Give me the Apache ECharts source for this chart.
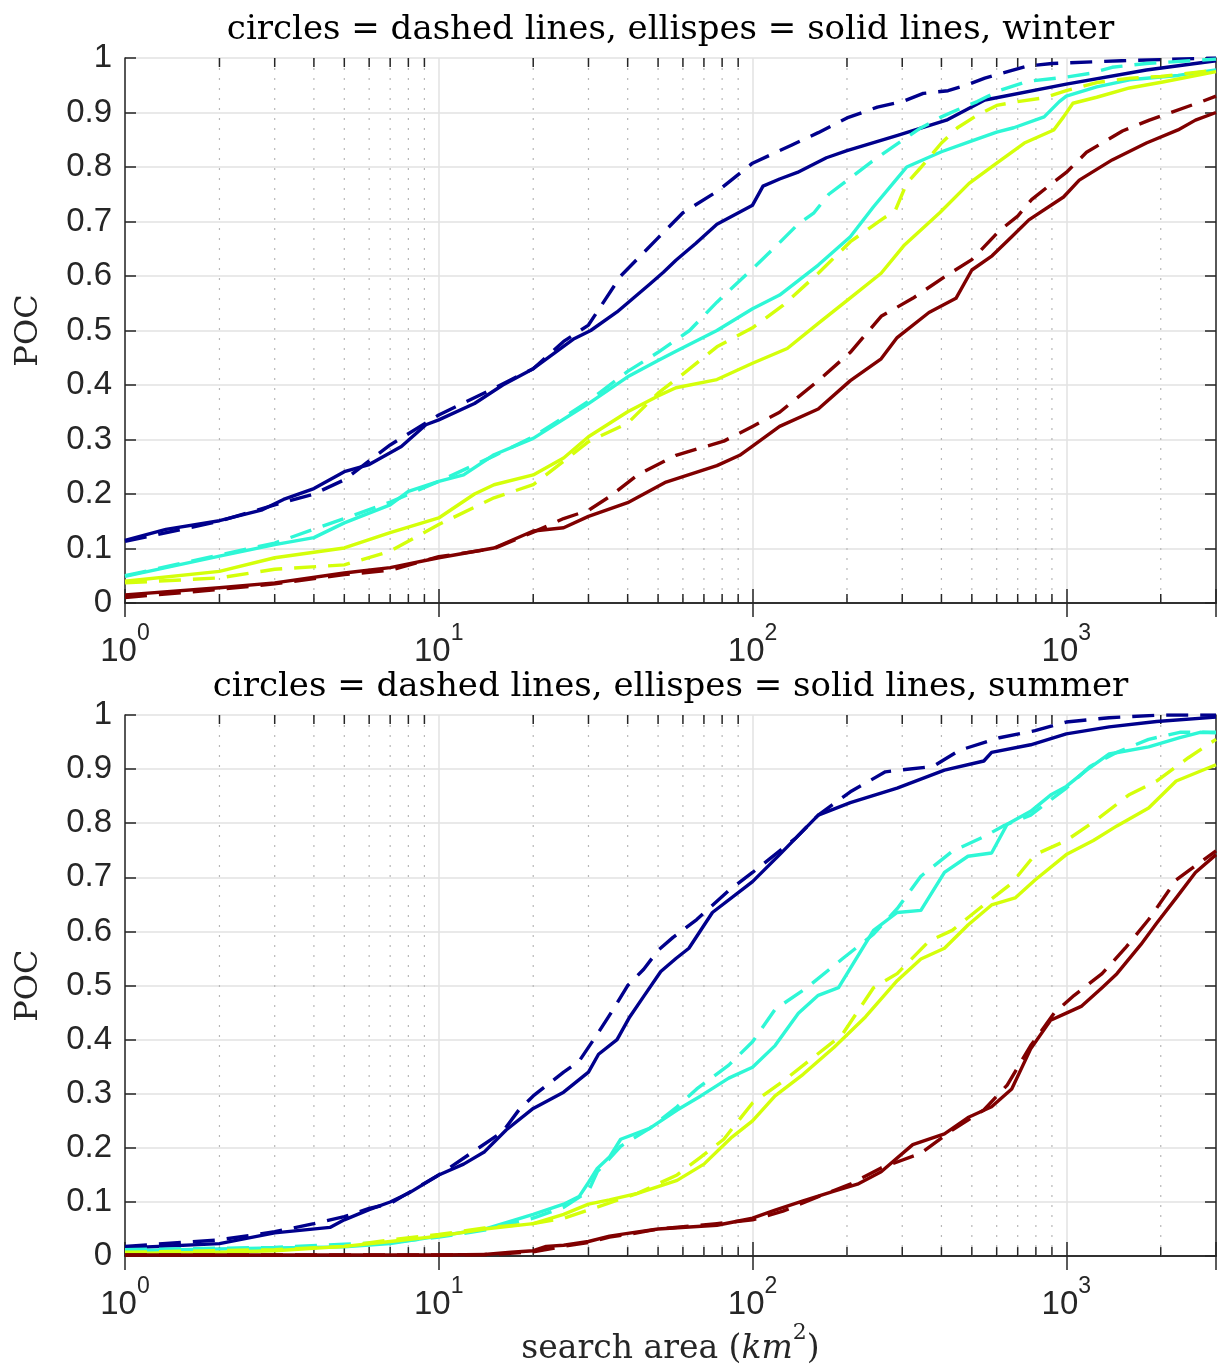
<!DOCTYPE html>
<html>
<head>
<meta charset="utf-8">
<script src="https://cdn.jsdelivr.net/npm/echarts@6/dist/echarts.min.js"></script>
<style>
html,body{margin:0;padding:0;background:#fff;}
#chart{width:1219px;height:1367px;}
</style>
</head>
<body>
<div id="chart"></div>
<script>
// ---------- data (x = search area km^2, y = POC) ----------
var titles = ['circles = dashed lines, ellispes = solid lines, winter',
              'circles = dashed lines, ellispes = solid lines, summer'];
var yLabel = 'POC';
var minorTicks = [2,3,4,5,6,7,8,9,20,30,40,50,60,70,80,90,200,300,400,500,600,700,800,900,2000];

// winter, ellipses (solid) and circles (dashed)
var winterBlueEllipse = [[1,0.115],[1.35,0.135],[2,0.151],[2.74,0.171],[3.2,0.19],[4,0.21],[5,0.241],[6,0.254],[7.6,0.287],[9.1,0.327],[10,0.336],[13,0.366],[16,0.4],[20,0.43],[27,0.485],[30.5,0.5],[37,0.534],[47,0.585],[52,0.607],[57,0.629],[66,0.66],[77,0.695],[100,0.73],[108,0.765],[122,0.778],[139,0.79],[172,0.817],[200,0.83],[290,0.858],[415,0.886],[550,0.923],[1000,0.952],[1800,0.978],[3000,0.995]];
var winterBlueCircle = [[1,0.113],[2,0.15],[3,0.18],[4,0.2],[5,0.226],[7,0.29],[10,0.345],[15,0.394],[20,0.43],[25,0.48],[30,0.51],[38,0.6],[50,0.67],[60,0.716],[77,0.755],[100,0.807],[133,0.84],[162,0.863],[200,0.89],[250,0.91],[300,0.92],[350,0.935],[420,0.94],[480,0.95],[550,0.963],[650,0.975],[750,0.985],[900,0.99],[1500,0.995],[3000,1.0]];
var winterCyanEllipse = [[1,0.049],[2,0.086],[3,0.107],[4,0.12],[5,0.147],[7,0.18],[8,0.205],[10,0.223],[12,0.235],[15,0.272],[20,0.302],[30,0.366],[40,0.415],[50,0.445],[57,0.462],[77,0.5],[100,0.54],[122,0.565],[162,0.62],[205,0.672],[243,0.727],[290,0.78],[310,0.8],[400,0.828],[490,0.846],[600,0.864],[680,0.872],[850,0.892],[950,0.92],[1000,0.93],[1250,0.947],[1590,0.96],[2270,0.968],[3000,0.978]];
var winterCyanCircle = [[1,0.05],[2,0.088],[3,0.11],[5,0.155],[7,0.185],[10,0.223],[15,0.27],[20,0.305],[30,0.37],[40,0.425],[50,0.46],[63,0.5],[77,0.552],[102,0.618],[118,0.653],[139,0.694],[157,0.716],[175,0.75],[200,0.775],[240,0.81],[290,0.843],[340,0.87],[400,0.892],[450,0.905],[520,0.92],[610,0.94],[750,0.957],[1000,0.965],[1200,0.972],[1400,0.983],[1800,0.99],[3000,0.998]];
var winterYellowEllipse = [[1,0.04],[2,0.058],[3,0.083],[5,0.101],[7,0.129],[10,0.156],[13,0.2],[15,0.217],[20,0.235],[25,0.266],[30,0.305],[40,0.351],[50,0.38],[57,0.395],[77,0.41],[100,0.44],[129,0.467],[162,0.513],[205,0.56],[257,0.605],[305,0.657],[395,0.716],[490,0.77],[600,0.807],[735,0.844],[912,0.868],[980,0.892],[1050,0.917],[1250,0.928],[1590,0.945],[2030,0.956],[3000,0.975]];
var winterYellowCircle = [[1,0.037],[2,0.046],[3,0.062],[5,0.07],[7,0.095],[10,0.144],[15,0.193],[20,0.217],[25,0.26],[30,0.296],[40,0.33],[50,0.385],[60,0.42],[77,0.47],[100,0.505],[125,0.546],[162,0.605],[205,0.663],[257,0.703],[285,0.72],[310,0.77],[345,0.8],[400,0.844],[450,0.872],[520,0.895],[600,0.913],[700,0.92],[850,0.927],[1000,0.94],[1250,0.955],[1600,0.963],[2000,0.966],[3000,0.978]];
var winterRedEllipse = [[1,0.015],[2,0.028],[3,0.037],[5,0.055],[7,0.065],[10,0.083],[15,0.101],[20,0.132],[25,0.138],[30,0.159],[40,0.184],[53,0.222],[77,0.252],[91,0.271],[100,0.288],[122,0.324],[162,0.356],[205,0.408],[257,0.448],[289,0.487],[365,0.533],[445,0.559],[500,0.611],[580,0.637],[670,0.672],[760,0.703],[980,0.745],[1100,0.776],[1400,0.813],[1800,0.844],[2270,0.868],[2580,0.886],[3000,0.9]];
var winterRedCircle = [[1,0.01],[2,0.025],[3,0.035],[5,0.052],[7,0.06],[10,0.085],[15,0.1],[20,0.13],[25,0.155],[30,0.17],[35,0.195],[43,0.235],[57,0.271],[81,0.297],[100,0.324],[122,0.35],[162,0.408],[205,0.46],[257,0.526],[324,0.559],[408,0.598],[500,0.63],[612,0.683],[700,0.71],[775,0.74],[900,0.77],[1000,0.79],[1160,0.827],[1510,0.866],[1840,0.886],[2700,0.92],[3000,0.93]];

// summer
var summerBlueEllipse = [[1,0.015],[2,0.023],[3,0.043],[4.5,0.053],[5,0.067],[6,0.086],[7,0.1],[8,0.116],[10,0.15],[12,0.17],[14,0.193],[16.4,0.233],[20,0.273],[25,0.303],[30,0.34],[32.3,0.373],[37,0.4],[40.6,0.442],[45,0.48],[51,0.526],[57,0.55],[62.7,0.569],[74.5,0.635],[100,0.692],[122,0.742],[162,0.815],[205,0.838],[289,0.865],[409,0.898],[546,0.915],[578,0.931],[770,0.945],[1000,0.965],[1370,0.978],[1940,0.988],[3000,0.996]];
var summerBlueCircle = [[1,0.018],[2,0.03],[3,0.045],[4,0.06],[5,0.073],[6,0.088],[7,0.097],[10,0.15],[16,0.23],[18,0.27],[20,0.296],[25,0.34],[28,0.36],[32,0.41],[36,0.456],[40,0.5],[45,0.53],[50,0.565],[55.8,0.589],[66.4,0.622],[83.7,0.675],[100,0.709],[137,0.772],[162,0.815],[205,0.858],[265,0.895],[376,0.905],[458,0.935],[612,0.958],[795,0.971],[1000,0.987],[1370,0.995],[2000,1.0],[3000,1.0]];
var summerCyanEllipse = [[1,0.01],[2,0.013],[3,0.015],[5,0.017],[7,0.023],[10,0.037],[14,0.05],[20,0.077],[25,0.096],[28,0.11],[30,0.136],[32,0.162],[35,0.183],[38,0.216],[47,0.236],[57.5,0.27],[68.4,0.296],[84,0.329],[100,0.349],[118,0.389],[140,0.449],[162,0.482],[188,0.496],[210,0.542],[243,0.602],[289,0.635],[344,0.639],[409,0.709],[486,0.739],[578,0.745],[648,0.798],[770,0.822],[891,0.852],[1000,0.868],[1160,0.898],[1370,0.928],[1830,0.941],[2300,0.958],[2670,0.968],[3000,0.967]];
var summerCyanCircle = [[1,0.012],[3,0.016],[5,0.022],[7,0.025],[10,0.035],[14,0.048],[20,0.07],[25,0.09],[30,0.12],[32,0.156],[35,0.18],[38,0.203],[47,0.236],[57.5,0.276],[66.4,0.309],[84,0.353],[100,0.396],[118,0.456],[149,0.496],[193,0.549],[243,0.595],[289,0.642],[344,0.702],[433,0.748],[546,0.775],[630,0.795],[770,0.815],[1000,0.865],[1190,0.905],[1450,0.931],[1830,0.955],[2300,0.968],[3000,0.968]];
var summerYellowEllipse = [[1,0.005],[2,0.007],[3,0.01],[5,0.018],[7,0.027],[10,0.037],[14,0.05],[20,0.06],[25,0.077],[30,0.096],[35,0.104],[43,0.116],[57.5,0.14],[70,0.17],[86,0.22],[100,0.25],[118,0.296],[145,0.336],[182,0.386],[229,0.442],[289,0.509],[344,0.549],[409,0.569],[486,0.612],[578,0.649],[687,0.662],[795,0.695],[1000,0.742],[1220,0.768],[1450,0.795],[1830,0.828],[2240,0.878],[3000,0.908]];
var summerYellowCircle = [[1,0.007],[3,0.012],[5,0.018],[7,0.03],[10,0.04],[14,0.052],[20,0.06],[25,0.07],[30,0.085],[43,0.116],[57.5,0.15],[68.4,0.183],[81,0.216],[100,0.283],[125,0.323],[153,0.363],[193,0.409],[243,0.496],[289,0.522],[365,0.582],[433,0.602],[546,0.649],[670,0.689],[795,0.742],[1000,0.768],[1260,0.808],[1580,0.852],[1940,0.878],[2450,0.921],[3000,0.955]];
var summerRedEllipse = [[1,0.002],[10,0.002],[14,0.003],[17,0.007],[20,0.01],[22,0.018],[25,0.02],[30,0.027],[35,0.037],[40,0.042],[50,0.05],[77,0.057],[100,0.07],[118,0.085],[145,0.102],[182,0.12],[216,0.133],[257,0.156],[324,0.206],[409,0.226],[486,0.256],[578,0.276],[670,0.309],[770,0.383],[891,0.436],[1000,0.449],[1120,0.462],[1300,0.496],[1450,0.522],[1730,0.576],[1940,0.615],[2240,0.662],[2580,0.709],[3000,0.742]];
var summerRedCircle = [[1,0.002],[10,0.002],[15,0.003],[20,0.008],[25,0.018],[30,0.025],[35,0.035],[40,0.04],[50,0.05],[77,0.06],[100,0.067],[125,0.083],[162,0.11],[205,0.133],[257,0.163],[344,0.19],[433,0.233],[546,0.27],[648,0.316],[770,0.389],[915,0.449],[1060,0.482],[1300,0.522],[1540,0.569],[1830,0.622],[2240,0.695],[2450,0.712],[3000,0.749]];

var colors = ['#00008C', '#2EF7D6', '#D4FF0A', '#800000'];

// ---------- chart ----------
var AX = '#262626';
var SANS = 'Liberation Sans';
var SERIF = 'DejaVu Serif';

function decadeLabel(v) {
  var e = Math.round(Math.log10(v));
  if (Math.abs(Math.pow(10, e) - v) > 1e-6 * v) return '';
  return '{b|10}{s|' + e + '}';
}

var labelRich = {
  b: {fontSize: 33, fontFamily: SANS, color: AX, verticalAlign: 'bottom', lineHeight: 46},
  s: {fontSize: 23, fontFamily: SANS, color: AX, verticalAlign: 'top', lineHeight: 23}
};

var grids = [
  {left: 125, top: 58, width: 1094, height: 545},
  {left: 125, top: 715, width: 1094, height: 545}
];

function xAxes(gi, withName, titleText) {
  var base = {
    type: 'log', logBase: 10, min: 1, max: 3000, gridIndex: gi,
    axisLine: {show: true, lineStyle: {color: AX, width: 1.5}},
    axisTick: {show: true, inside: true, length: 14, lineStyle: {color: AX, width: 1.5}}
  };
  var bottom = Object.assign({}, base, {
    position: 'bottom',
    splitLine: {show: true, lineStyle: {color: '#e2e2e2', width: 1.5}},
    axisLabel: {show: true, formatter: decadeLabel, rich: labelRich, margin: 19, hideOverlap: false}
  });
  if (withName) {
    bottom.name = '{r|search area (}{i|km}{u|2}{r|)}';
    bottom.nameLocation = 'middle';
    bottom.nameGap = 64;
    bottom.nameTextStyle = {
      rich: {
        r: {fontFamily: SERIF, fontSize: 33, color: AX, verticalAlign: 'bottom', lineHeight: 44},
        i: {fontFamily: SERIF, fontStyle: 'italic', fontSize: 33, color: AX, verticalAlign: 'bottom', lineHeight: 44},
        u: {fontFamily: SERIF, fontSize: 22, color: AX, verticalAlign: 'top', lineHeight: 22}
      }
    };
  }
  var top = Object.assign({}, base, {
    position: 'top',
    splitLine: {show: false},
    axisLabel: {show: false},
    name: titleText, nameLocation: 'middle', nameGap: 11,
    nameTextStyle: {fontFamily: SERIF, fontSize: 34, color: '#000'}
  });
  return [bottom, top];
}

function yAxes(gi) {
  var base = {
    type: 'value', min: 0, max: 1, interval: 0.1, gridIndex: gi,
    axisLine: {show: true, lineStyle: {color: AX, width: 1.5}},
    axisTick: {show: true, inside: true, length: 11, lineStyle: {color: AX, width: 1.5}}
  };
  var left = Object.assign({}, base, {
    position: 'left',
    splitLine: {show: true, lineStyle: {color: '#e2e2e2', width: 1.5}},
    axisLabel: {show: true, fontSize: 33, fontFamily: SANS, color: AX, margin: 13},
    name: yLabel, nameLocation: 'middle', nameRotate: 90, nameGap: 80,
    nameTextStyle: {fontFamily: SERIF, fontSize: 32, color: AX}
  });
  var right = Object.assign({}, base, {
    position: 'right', splitLine: {show: false}, axisLabel: {show: false}
  });
  return [left, right];
}

function minorSeries(xi, yi) {
  return {
    type: 'custom', xAxisIndex: xi, yAxisIndex: yi, silent: true, z: 1,
    data: minorTicks.map(function (v) { return [v, 0]; }),
    encode: {x: 0, y: 1},
    renderItem: function (params, api) {
      var p = api.coord([api.value(0), 0]);
      var cs = params.coordSys;
      return {
        type: 'group',
        children: [
          {type: 'line', shape: {x1: p[0], y1: cs.y, x2: p[0], y2: cs.y + cs.height},
           style: {stroke: '#b8b8b8', lineWidth: 1.2, lineDash: [2, 8]}},
          {type: 'line', shape: {x1: p[0], y1: cs.y + cs.height, x2: p[0], y2: cs.y + cs.height - 9},
           style: {stroke: AX, lineWidth: 1.5}},
          {type: 'line', shape: {x1: p[0], y1: cs.y, x2: p[0], y2: cs.y + 9},
           style: {stroke: AX, lineWidth: 1.5}}
        ]
      };
    }
  };
}

function lineSeries(name, data, color, dashed, xi, yi) {
  return {
    name: name, type: 'line', data: data, xAxisIndex: xi, yAxisIndex: yi,
    showSymbol: false, symbol: 'none', smooth: false, z: 3,
    lineStyle: {color: color, width: 3.4, type: dashed ? [22, 12] : 'solid', cap: 'butt', join: 'round'}
  };
}

var winterSets = [[winterBlueEllipse, winterBlueCircle], [winterCyanEllipse, winterCyanCircle],
                  [winterYellowEllipse, winterYellowCircle], [winterRedEllipse, winterRedCircle]];
var summerSets = [[summerBlueEllipse, summerBlueCircle], [summerCyanEllipse, summerCyanCircle],
                  [summerYellowEllipse, summerYellowCircle], [summerRedEllipse, summerRedCircle]];

var series = [minorSeries(0, 0), minorSeries(2, 2)];
winterSets.forEach(function (s, i) {
  series.push(lineSeries('w-circle-' + i, s[1], colors[i], true, 0, 0));
  series.push(lineSeries('w-ellipse-' + i, s[0], colors[i], false, 0, 0));
});
summerSets.forEach(function (s, i) {
  series.push(lineSeries('s-circle-' + i, s[1], colors[i], true, 2, 2));
  series.push(lineSeries('s-ellipse-' + i, s[0], colors[i], false, 2, 2));
});

var chart = echarts.init(document.getElementById('chart'), null, {renderer: 'canvas'});
chart.setOption({
  animation: false,
  backgroundColor: '#fff',
  grid: grids,
  xAxis: xAxes(0, false, titles[0]).concat(xAxes(1, true, titles[1])),
  yAxis: yAxes(0).concat(yAxes(1)),
  series: series
});
</script>
</body>
</html>
